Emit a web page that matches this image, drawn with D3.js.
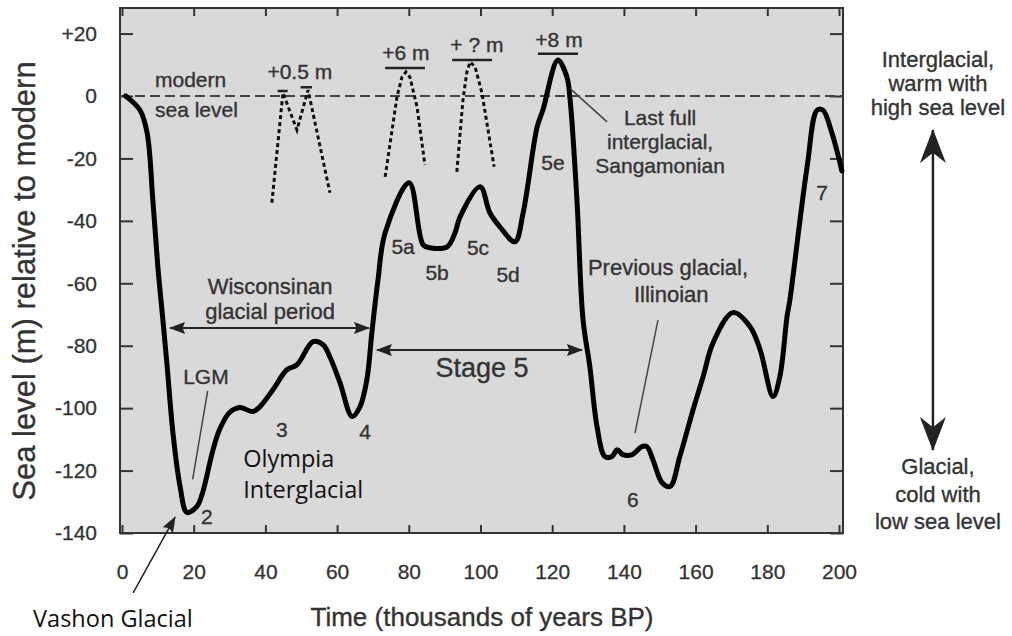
<!doctype html>
<html lang="en">
<head>
<meta charset="utf-8">
<title>Sea level over the last 200,000 years</title>
<script src="https://cdn.jsdelivr.net/npm/d3@7"></script>
<style>
  body { margin: 0; background: #fff; }
  svg { display: block; font-family: "Liberation Sans", Arial, sans-serif; }
  .note { fill: #333; stroke: #333; stroke-width: 0.35; font-size: 21px; }
  .tick text { fill: #333; stroke: #333; stroke-width: 0.3; font-size: 21px; font-family: "Liberation Sans", Arial, sans-serif; }
  .tick line { stroke: #333; stroke-width: 2; }
  .calibri { fill: #111; font-family: "Open Sans", Lato, sans-serif; font-size: 23.5px; }
</style>
</head>
<body>
<div id="chart"></div>
<script>

  // Sea level curve (thousands of years BP, metres vs modern)
  var timeKyr = [1, 5, 7, 8.6, 10, 11.4, 12.6, 14.2, 16.2, 18.1, 20.9, 22.5, 25.4, 27.2, 30,
    32.9, 36.5, 38.5, 42.1, 46, 48.8, 53.3, 56.1, 58, 60.8, 64.2, 66.4, 68.3, 69.7, 71.4,
    73.4, 80.1, 84, 85.9, 90.7, 92.9, 94.3, 99.9, 102.6, 105.4, 109.6, 111.9, 115.8, 117.4, 121.6,
    124.1, 125, 126.9, 128.6, 130.5, 132.5, 134.7, 136.7, 138.1, 139.7, 142.3, 145, 146.4, 148.1, 150.6,
    152.9, 155.6, 159.3, 162.1, 164.9, 170.4, 175.2, 178, 181.6, 183.5, 185.5, 186.3, 191.1, 193.9, 195.5,
    198, 200.8];
  var seaLevel = [0, -4.5, -11.8, -33.3, -54.7, -71.7, -86.7, -107.8, -125.1, -133.4, -131.5, -127, -113.3, -106.9, -101.4,
    -99.8, -101.1, -99.5, -94.1, -87.7, -86.1, -78.7, -79.7, -83.6, -91.8, -102.7, -99.5, -90.9, -75.8, -59,
    -43.8, -27.8, -47.7, -48.6, -48.3, -43.8, -38.7, -29.1, -37.4, -41.9, -46.7, -37.4, -9.9, -4.5, 11.5,
    6.1, -1.3, -33.3, -71.7, -86.7, -105.9, -115.5, -115.5, -113.3, -114.9, -114.9, -112.3, -112.3, -116.5, -123.8,
    -125.1, -115.5, -100.5, -89.9, -79, -69.4, -73.9, -81.3, -96.3, -89.9, -70.7, -65.3, -22.7, -4.5, -4.5,
    -11.8, -24];

  // Alternative (dotted) highstand estimates
  var highA_t = [41.8, 44.9, 48.8, 51.9, 58.0];
  var highA_l = [-34.2, 1, -10.9, 1.9, -31];
  var highB_t = [73.4, 76.7, 78.1, 79.2, 80.3, 82.3, 84.5];
  var highB_l = [-25.9, -0.3, 6.1, 7.7, 6.1, -3.5, -22.1];
  var highC_t = [93.4, 95.1, 96.2, 97.1, 98.5, 100.4, 103.8];
  var highC_l = [-24.3, -1.3, 7.7, 10.9, 9.3, 1, -22.7];

  // Axis ticks
  var xTicks = [0, 20, 40, 60, 80, 100, 120, 140, 160, 180, 200];
  var yTicks = [20, 0, -20, -40, -60, -80, -100, -120, -140];

  var width = 1012, height = 636;
  var plotLeft = 120, plotRight = 843, plotTop = 8, plotBottom = 533;

  var svg = d3.select("#chart").append("svg")
    .attr("width", width)
    .attr("height", height);

  var x = d3.scaleLinear().domain([0, 200]).range([122, 839]);
  var y = d3.scaleLinear().domain([0, -140]).range([96, 533]);

  // arrow heads
  var defs = svg.append("defs");
  function head(id, len, wid, notch) {
    defs.append("marker")
      .attr("id", id)
      .attr("viewBox", "0 0 " + len + " " + wid)
      .attr("refX", len - 1).attr("refY", wid / 2)
      .attr("markerWidth", len).attr("markerHeight", wid)
      .attr("markerUnits", "userSpaceOnUse")
      .attr("orient", "auto-start-reverse")
      .append("path")
      .attr("d", "M0,0L" + len + "," + wid / 2 + "L0," + wid + "L" + (len * notch) + "," + wid / 2 + "Z")
      .attr("fill", "#222");
  }
  head("small", 16, 12, 0.15);
  head("big", 34, 26, 0.3);

  // plot background
  svg.append("rect")
    .attr("x", plotLeft).attr("y", plotTop)
    .attr("width", plotRight - plotLeft).attr("height", plotBottom - plotTop)
    .attr("fill", "#d9d9d9");

  // axes (ticks point inward)
  var fmt = function(d) { return d > 0 ? "+" + d : String(d); };
  svg.append("g").attr("transform", "translate(" + plotLeft + ",0)")
    .call(d3.axisLeft(y).tickValues(yTicks).tickSize(-13).tickPadding(23).tickFormat(fmt))
    .call(g => g.select(".domain").remove());
  svg.append("g").attr("transform", "translate(" + plotRight + ",0)")
    .call(d3.axisRight(y).tickValues(yTicks).tickSize(-13).tickFormat(""))
    .call(g => g.select(".domain").remove());
  svg.append("g").attr("transform", "translate(0," + plotBottom + ")")
    .call(d3.axisBottom(x).tickValues(xTicks).tickSize(-8).tickPadding(31))
    .call(g => g.select(".domain").remove());
  svg.append("g").attr("transform", "translate(0," + plotTop + ")")
    .call(d3.axisTop(x).tickValues(xTicks).tickSize(-8).tickFormat(""))
    .call(g => g.select(".domain").remove());

  svg.append("rect")
    .attr("x", plotLeft).attr("y", plotTop)
    .attr("width", plotRight - plotLeft).attr("height", plotBottom - plotTop)
    .attr("fill", "none").attr("stroke", "#333").attr("stroke-width", 2);

  // modern sea level
  svg.append("line")
    .attr("x1", plotLeft).attr("x2", plotRight)
    .attr("y1", y(0)).attr("y2", y(0))
    .attr("stroke", "#444").attr("stroke-width", 2).attr("stroke-dasharray", "10,5");

  // dotted highstands
  var line = d3.line().x(d => x(d[0])).y(d => y(d[1]));
  [[highA_t, highA_l], [highB_t, highB_l], [highC_t, highC_l]].forEach(function(s) {
    svg.append("path")
      .attr("d", line(d3.zip(s[0], s[1])))
      .attr("fill", "none").attr("stroke", "#111")
      .attr("stroke-width", 3).attr("stroke-dasharray", "4,3");
  });

  // highstand bars
  var bars = [[43.4, 46.2, 1.6], [49.8, 53, 2.8], [73.4, 84.5, 9], [92.1, 103.2, 11.5], [116, 127.2, 13.5]];
  bars.forEach(function(b) {
    svg.append("line")
      .attr("x1", x(b[0])).attr("x2", x(b[1]))
      .attr("y1", y(b[2])).attr("y2", y(b[2]))
      .attr("stroke", "#222").attr("stroke-width", 2.5);
  });

  // main curve, lightly smoothed
  var smooth = d3.line().x(d => x(d[0])).y(d => y(d[1])).curve(d3.curveCatmullRom.alpha(0.5));
  svg.append("path")
    .attr("d", smooth(d3.zip(timeKyr, seaLevel)))
    .attr("fill", "none").attr("stroke", "#000")
    .attr("stroke-width", 5).attr("stroke-linejoin", "round").attr("stroke-linecap", "round");

  // text notes [text, t, level, anchor, size]
  var notes = [
    ["modern", 9.2, 2.9, "start"], ["sea level", 9.2, -6.7, "start"],
    ["+0.5 m", 49.6, 5.4, "middle"], ["+6 m", 79.2, 11.5, "middle"],
    ["+ ? m", 99.0, 14.1, "middle"], ["+8 m", 121.9, 15.7, "middle"],
    ["Wisconsinan", 41.3, -63.4, "middle", 22], ["glacial period", 41.3, -71.4, "middle", 22],
    ["LGM", 23.4, -92.3, "middle"], ["2", 23.7, -137.1, "middle"],
    ["3", 44.6, -109.2, "middle"], ["4", 67.8, -109.9, "middle"],
    ["5a", 78.4, -50.6, "middle"], ["5b", 87.9, -59, "middle"],
    ["5c", 99.3, -50.9, "middle"], ["5d", 107.7, -59.6, "middle"],
    ["5e", 120.2, -23.7, "middle"],
    ["Last full", 150.1, -9.3, "middle"], ["interglacial,", 150.1, -17, "middle"],
    ["Sangamonian", 150.1, -24.7, "middle"],
    ["Previous glacial,", 152.3, -57.4, "middle", 22], ["Illinoian", 153.2, -66, "middle", 22],
    ["6", 142.5, -131.7, "middle"], ["7", 195.3, -33.3, "middle"],
    ["Interglacial,", 227.6, 9.3, "middle", 22], ["warm with", 227.6, 1.6, "middle", 22],
    ["high sea level", 227.6, -6.1, "middle", 22],
    ["Glacial,", 227.6, -121.1, "middle", 22], ["cold with", 227.6, -130.1, "middle", 22],
    ["low sea level", 227.6, -138.7, "middle", 22],
    ["Stage 5", 100.4, -90, "middle", 27]
  ];
  svg.selectAll(".note")
    .data(notes)
    .enter()
    .append("text")
    .attr("class", "note")
    .attr("x", d => x(d[1]))
    .attr("y", d => y(d[2]))
    .attr("text-anchor", d => d[3])
    .style("font-size", d => d[4] ? d[4] + "px" : null)
    .text(d => d[0]);

  // added labels
  [["Olympia", 33.8, -118.9], ["Interglacial", 33.8, -128.8], ["Vashon Glacial", -24.8, -170.1]].forEach(function(d) {
    svg.append("text").attr("class", "calibri")
      .attr("x", x(d[1])).attr("y", y(d[2]))
      .text(d[0]);
  });

  // pointer lines
  [[[23.9, -94.5], [19.7, -122.8]], [[125.5, 1.9], [135.3, -8.3]], [[149.5, -71.8], [143.1, -108]]].forEach(function(p) {
    svg.append("line")
      .attr("x1", x(p[0][0])).attr("y1", y(p[0][1]))
      .attr("x2", x(p[1][0])).attr("y2", y(p[1][1]))
      .attr("stroke", "#444").attr("stroke-width", 1.5);
  });

  // arrows
  function arrow(a, b, id, both, w) {
    svg.append("line")
      .attr("x1", x(a[0])).attr("y1", y(a[1]))
      .attr("x2", x(b[0])).attr("y2", y(b[1]))
      .attr("stroke", "#222").attr("stroke-width", w)
      .attr("marker-end", "url(#" + id + ")")
      .attr("marker-start", both ? "url(#" + id + ")" : null);
  }
  arrow([13.4, -74.3], [68.9, -74.3], "small", true, 2);
  arrow([71.1, -81.4], [128.3, -81.4], "small", true, 2);
  arrow([3.1, -159.2], [14.8, -134.9], "small", false, 1.5);
  arrow([226.2, -10.9], [226.2, -113.4], "big", true, 2.5);

  // axis titles
  svg.append("text")
    .attr("x", 482).attr("y", 626)
    .attr("text-anchor", "middle")
    .attr("fill", "#333").attr("stroke", "#333").attr("stroke-width", 0.35)
    .style("font-size", "26px")
    .text("Time (thousands of years BP)");
  svg.append("text")
    .attr("transform", "translate(35,281) rotate(-90)")
    .attr("text-anchor", "middle")
    .attr("fill", "#333").attr("stroke", "#333").attr("stroke-width", 0.35)
    .style("font-size", "31px")
    .text("Sea level (m) relative to modern");

</script>
</body>
</html>
